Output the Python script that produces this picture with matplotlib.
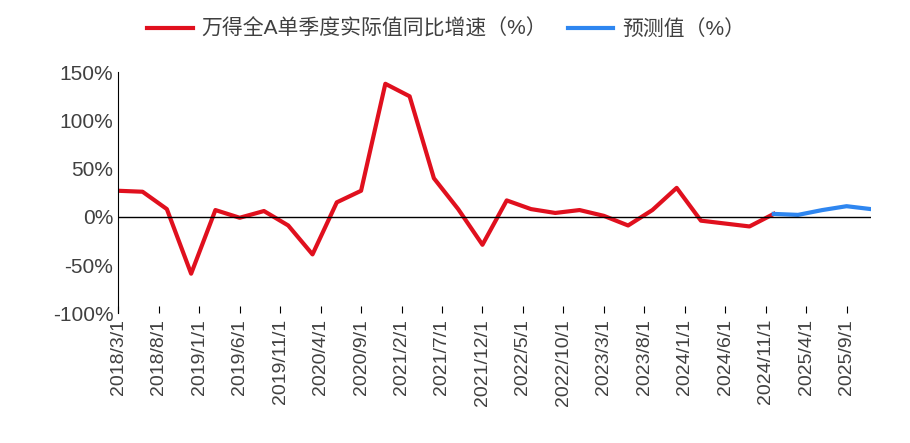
import numpy as np
import matplotlib
matplotlib.use('Agg')
import matplotlib.pyplot as plt
plt.rcParams['font.family'] = ['Liberation Sans', 'Noto Sans CJK SC', 'DejaVu Sans']
plt.rcParams['axes.unicode_minus'] = False

# quarterly values, starting 2018/3
actual = [27, 26, 8, -59, 7, -1, 6, -9, -39, 15, 27, 138, 125, 40, 8, -29,
          17, 8, 4, 7, 1, -9, 7, 30, -4, -7, -10, 3]
forecast = [3, 2, 7, 11, 8]
tick_labels = ['2018/3/1', '2018/8/1', '2019/1/1', '2019/6/1', '2019/11/1', '2020/4/1',
               '2020/9/1', '2021/2/1', '2021/7/1', '2021/12/1', '2022/5/1', '2022/10/1',
               '2023/3/1', '2023/8/1', '2024/1/1', '2024/6/1', '2024/11/1', '2025/4/1',
               '2025/9/1']

# month offsets from 2018/3
x_act = np.arange(len(actual)) * 3
x_fc = x_act[-1] + np.arange(len(forecast)) * 3

fig = plt.figure(figsize=(9.1, 4.43), dpi=100)
ax = fig.add_axes([0.13, 0.293, 0.827, 0.544])
ax.plot(x_act, actual, color='#e0101e', lw=3, label='万得全A单季度实际值同比增速（%）')
ax.plot(x_fc, forecast, color='#2e86f0', lw=3, label='预测值（%）')
ax.axhline(0, color='black', lw=1)
ax.set_ylim(-100, 150)
ax.set_xlim(0, x_fc[-1])
ax.set_yticks(np.arange(-100, 151, 50))
ax.set_yticklabels(['%d%%' % v for v in range(-100, 151, 50)], fontsize=15, color='#404040')
ax.set_xticks(np.arange(len(tick_labels)) * 5)
ax.set_xticklabels(tick_labels, rotation=90, fontsize=14, color='#404040')
for s in ['top', 'right', 'bottom']:
    ax.spines[s].set_visible(False)
ax.tick_params(axis='x', length=5, direction='in', pad=4)
ax.tick_params(axis='y', length=0)
ax.spines['left'].set_color('black')
leg = fig.legend(loc='upper center', bbox_to_anchor=(0.49, 1.0), ncol=2, frameon=False,
                 fontsize=15, handlelength=2.2, columnspacing=1.0, handletextpad=0.4)
for t in leg.get_texts():
    t.set_color('#404040')
fig.savefig('out.png', dpi=100)
